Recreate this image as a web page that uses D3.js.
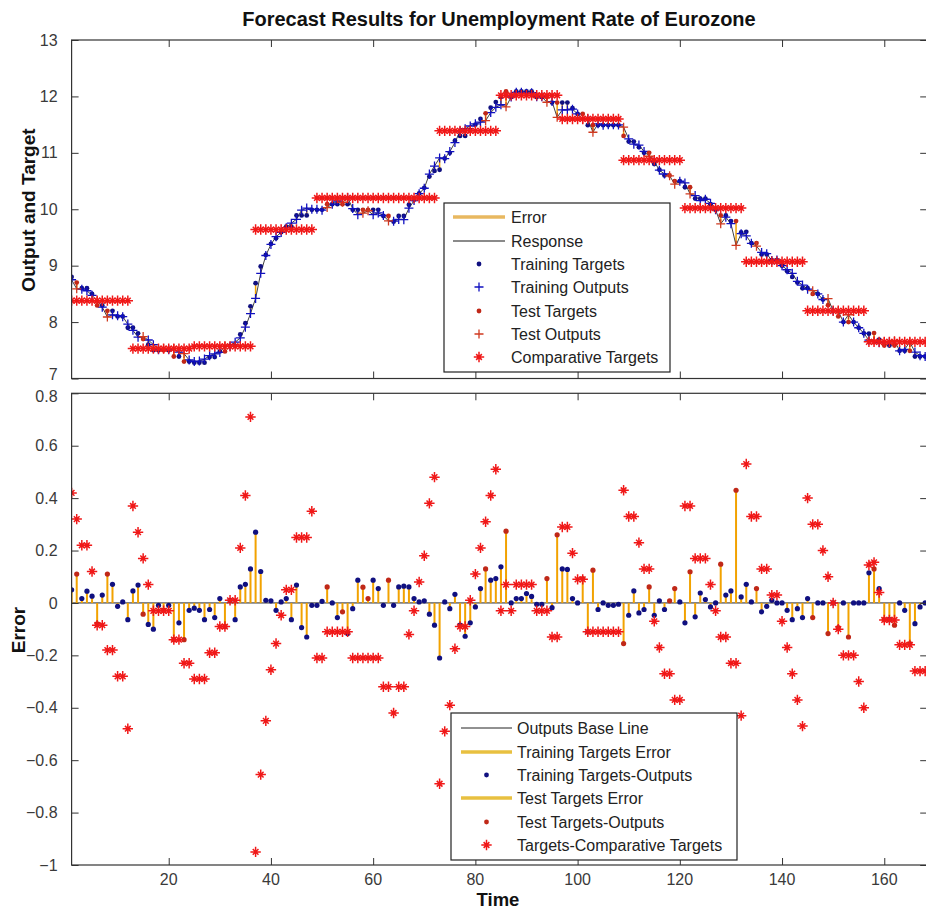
<!DOCTYPE html>
<html><head><meta charset="utf-8">
<script src="https://cdn.jsdelivr.net/npm/d3@7"></script>
<style>body{margin:0;background:#fff}svg{display:block}text{font-family:"Liberation Sans",Arial,Helvetica,sans-serif}</style>
</head><body><svg id="c" width="926" height="911"></svg>
<script>
// ---------------- DATA ----------------
const timeSteps = d3.range(1, 169);
// Comparative targets (annual values, each held for 12 monthly steps)
const comparativeAnnual = [8.38, 7.53, 7.57, 9.64, 10.2, 10.2, 11.39, 12.02, 11.6, 10.87, 10.02, 9.07, 8.2, 7.65];
// Targets - Comparative Targets
const diffComparative = [
  0.42,0.32,0.22,0.22,0.12,-0.085,-0.085,-0.18,-0.18,-0.28,-0.28,-0.48,
  0.37,0.27,0.17,0.07,-0.03,-0.03,-0.03,-0.03,-0.14,-0.14,-0.23,-0.23,
  -0.29,-0.29,-0.29,-0.19,-0.19,-0.09,-0.09,0.01,0.01,0.21,0.41,0.71,
  -0.95,-0.655,-0.45,-0.255,-0.155,-0.047,0.05,0.05,0.25,0.25,0.25,0.35,
  -0.21,-0.21,-0.11,-0.11,-0.11,-0.11,-0.11,-0.21,-0.21,-0.21,-0.21,-0.21,
  -0.21,-0.32,-0.32,-0.42,-0.32,-0.32,-0.12,-0.03,0.08,0.18,0.38,0.48,
  -0.69,-0.49,-0.39,-0.175,-0.09,-0.09,0.01,0.11,0.21,0.31,0.41,0.51,
  -0.03,0.07,-0.03,0.07,0.07,0.07,0.07,-0.03,-0.03,-0.03,-0.13,-0.13,
  0.29,0.29,0.19,0.09,0.09,-0.11,-0.11,-0.11,-0.11,-0.11,-0.11,-0.11,
  0.43,0.33,0.33,0.23,0.13,0.13,-0.07,-0.17,-0.27,-0.27,-0.37,-0.37,
  0.37,0.37,0.17,0.17,0.17,0.07,-0.03,-0.13,-0.13,-0.23,-0.23,-0.43,
  0.53,0.33,0.33,0.13,0.13,0.03,0.03,-0.07,-0.17,-0.27,-0.37,-0.47,
  0.40,0.30,0.30,0.20,0.10,0.00,-0.10,-0.20,-0.20,-0.20,-0.30,-0.40,
  0.145,0.155,0.04,-0.065,-0.065,-0.065,-0.16,-0.16,-0.16,-0.26,-0.26,-0.26
];
const errors = [
  0.05,0.11,0.017,0.045,0.026,-0.08,0.03,0.11,0.071,-0.013,0.004,-0.064,
  0.046,0.068,-0.043,-0.082,-0.10,-0.009,-0.028,-0.009,-0.14,-0.076,-0.14,-0.028,
  -0.02,-0.028,-0.064,-0.025,-0.056,0.017,-0.09,0.01,-0.064,0.061,0.071,0.13,
  0.27,0.12,0.01,0.008,-0.028,0.004,0.017,-0.064,0.068,-0.094,-0.13,-0.009,
  -0.009,0.006,0.061,0.0,-0.056,-0.034,-0.117,-0.022,0.087,0.06,0.017,0.087,
  0.055,-0.009,0.087,-0.009,0.061,0.064,0.061,0.017,0.004,0.008,-0.043,-0.085,
  -0.21,0.004,-0.022,0.033,-0.085,-0.127,-0.076,-0.015,0.055,0.13,0.087,0.093,
  0.138,0.274,0.0,0.017,0.017,0.036,0.025,-0.005,-0.005,0.093,-0.018,0.26,
  0.13,0.128,0.017,0.0,0.093,-0.11,0.125,-0.025,0.0,-0.009,-0.009,-0.005,
  -0.155,-0.047,0.046,-0.038,-0.025,0.061,-0.047,0.008,-0.025,0.008,0.055,0.004,
  -0.076,0.119,-0.053,0.038,0.013,-0.015,0.0,0.148,0.03,0.046,0.43,0.023,
  0.071,0.004,0.055,-0.034,-0.013,0.01,0.0,0.0,-0.028,-0.064,-0.022,-0.056,
  0.017,-0.056,0.0,0.0,-0.117,0.0,-0.094,0.0,-0.13,0.0,0.0,0.0,
  0.115,0.13,0.055,-0.064,-0.064,-0.085,0.0,-0.028,-0.155,-0.079,-0.015,0.0
];
// Time steps that belong to the test set
const testSteps = [2,6,8,15,19,21,23,31,51,54,58,59,63,82,86,94,96,101,103,109,114,118,119,122,128,131,135,146,149,151,153,158,160,162,165];
const xTickValues = [20,40,60,80,100,120,140,160];
const topYTicks = [7,8,9,10,11,12,13];
const botYTicks = [-1,-0.8,-0.6,-0.4,-0.2,0,0.2,0.4,0.6,0.8];
const topLegendLabels = ["Error","Response","Training Targets","Training Outputs","Test Targets","Test Outputs","Comparative Targets"];
const botLegendLabels = ["Outputs Base Line","Training Targets Error","Training Targets-Outputs","Test Targets Error","Test Targets-Outputs","Targets-Comparative Targets"];
const titleText = "Forecast Results for Unemployment Rate of Eurozone";

// ---------------- DERIVED ----------------
const testSet = new Set(testSteps);
const rows = timeSteps.map((t, i) => {
  const comp = comparativeAnnual[Math.floor(i / 12)];
  const target = comp + diffComparative[i];
  return {t, comp, target, output: target - errors[i], err: errors[i], diff: diffComparative[i], test: testSet.has(t)};
});
const train = rows.filter(d => !d.test), test = rows.filter(d => d.test);

// ---------------- LAYOUT ----------------
const svg = d3.select("#c");
const L = 71.6, R = 927.2;
const x = d3.scaleLinear().domain([1, 168.4]).range([L, R]);
const yTop = d3.scaleLinear().domain([7, 13]).range([378.5, 40]);
const yBot = d3.scaleLinear().domain([-1, 0.8]).range([865, 393.3]);
const BLUE = "#1010c0", BLUE_DOT = "#101080", RED = "#f01818", RED_DOT = "#c02818", STEM = "#f2a200";
const TICKLEN = 7;

const plusPath = s => `M${-s},0H${s}M0,${-s}V${s}`;
const starPath = s => { const d = s * 0.55; return `M${-s},0H${s}M0,${-s}V${s}M${-d},${-d}L${d},${d}M${-d},${d}L${d},${-d}`; };

function frame(y, top, bottom, yTicks, fmt, labelShift) {
  const g = svg.append("g");
  const la = g.append("g").attr("transform", `translate(${L},0)`)
    .call(d3.axisLeft(y).tickValues(yTicks).tickSize(-TICKLEN).tickPadding(7 + TICKLEN).tickFormat(fmt));
  la.select(".domain").remove();
  la.selectAll("line").attr("stroke", "#333");
  la.selectAll("text").attr("font-size", 16).attr("fill", "#3a3a3a").attr("font-family", "Liberation Sans, Arial, sans-serif")
    .attr("dy", d => labelShift(d));
  const ra = g.append("g").attr("transform", `translate(${R},0)`)
    .call(d3.axisRight(y).tickValues(yTicks).tickSize(-TICKLEN).tickFormat(""));
  ra.select(".domain").remove();
  ra.selectAll("line").attr("stroke", "#333");
  const ta = g.append("g").attr("transform", `translate(0,${top})`)
    .call(d3.axisTop(x).tickValues(xTickValues).tickSize(-TICKLEN).tickFormat(""));
  ta.select(".domain").remove(); ta.selectAll("line").attr("stroke", "#333");
  const ba = g.append("g").attr("transform", `translate(0,${bottom})`)
    .call(d3.axisBottom(x).tickValues(xTickValues).tickSize(-TICKLEN).tickFormat(""));
  ba.select(".domain").remove(); ba.selectAll("line").attr("stroke", "#333");
  g.append("rect").attr("x", L).attr("y", top).attr("width", R - L).attr("height", bottom - top)
    .attr("fill", "none").attr("stroke", "#333").attr("stroke-width", 1.2);
  return g;
}

const defs = svg.append("defs");
defs.append("clipPath").attr("id", "clipTop").append("rect").attr("x", L).attr("y", 40).attr("width", R - L).attr("height", 338.5);
defs.append("clipPath").attr("id", "clipBot").append("rect").attr("x", L).attr("y", 393.3).attr("width", R - L).attr("height", 471.7);

// ---------------- TOP PANEL ----------------
const gt = svg.append("g").attr("clip-path", "url(#clipTop)");
gt.selectAll("line.err").data(rows).join("line")
  .attr("x1", d => x(d.t)).attr("x2", d => x(d.t))
  .attr("y1", d => yTop(d.target)).attr("y2", d => yTop(d.output))
  .attr("stroke", STEM).attr("stroke-width", 1.5);
gt.append("path").datum(rows)
  .attr("d", d3.line().x(d => x(d.t)).y(d => yTop(d.output)))
  .attr("fill", "none").attr("stroke", "#404040").attr("stroke-width", 1);
gt.selectAll("circle.trT").data(train).join("circle")
  .attr("cx", d => x(d.t)).attr("cy", d => yTop(d.target)).attr("r", 2.4).attr("fill", BLUE_DOT);
gt.selectAll("path.trO").data(train).join("path")
  .attr("transform", d => `translate(${x(d.t)},${yTop(d.output)})`).attr("d", plusPath(4.5))
  .attr("stroke", BLUE).attr("stroke-width", 1.3).attr("fill", "none");
gt.selectAll("circle.teT").data(test).join("circle")
  .attr("cx", d => x(d.t)).attr("cy", d => yTop(d.target)).attr("r", 2.4).attr("fill", RED_DOT);
gt.selectAll("path.teO").data(test).join("path")
  .attr("transform", d => `translate(${x(d.t)},${yTop(d.output)})`).attr("d", plusPath(4.5))
  .attr("stroke", "#d03a20").attr("stroke-width", 1.3).attr("fill", "none");
gt.selectAll("path.comp").data(rows).join("path")
  .attr("transform", d => `translate(${x(d.t)},${yTop(d.comp)})`).attr("d", starPath(5.2))
  .attr("stroke", RED).attr("stroke-width", 1.5).attr("fill", "none");
frame(yTop, 40, 378.5, topYTicks, d3.format("d"), d => d === 7 ? "0.05em" : "0.32em");

// ---------------- BOTTOM PANEL ----------------
const gb = svg.append("g").attr("clip-path", "url(#clipBot)");
gb.append("line").attr("x1", L).attr("x2", R).attr("y1", yBot(0)).attr("y2", yBot(0))
  .attr("stroke", "#222").attr("stroke-width", 1);
gb.selectAll("line.stem").data(rows).join("line")
  .attr("x1", d => x(d.t)).attr("x2", d => x(d.t))
  .attr("y1", yBot(0)).attr("y2", d => yBot(d.err))
  .attr("stroke", STEM).attr("stroke-width", 2);
gb.selectAll("circle.trE").data(train).join("circle")
  .attr("cx", d => x(d.t)).attr("cy", d => yBot(d.err)).attr("r", 2.6).attr("fill", BLUE_DOT);
gb.selectAll("circle.teE").data(test).join("circle")
  .attr("cx", d => x(d.t)).attr("cy", d => yBot(d.err)).attr("r", 2.6).attr("fill", RED_DOT);
gb.selectAll("path.diff").data(rows).join("path")
  .attr("transform", d => `translate(${x(d.t)},${yBot(d.diff)})`).attr("d", starPath(5.2))
  .attr("stroke", RED).attr("stroke-width", 1.5).attr("fill", "none");
frame(yBot, 393.3, 865, botYTicks, d => d === 0 ? "0" : d3.format("")(+d.toFixed(1)), d => d === 0.8 ? "0.5em" : "0.32em");

svg.append("g").selectAll("text").data(xTickValues).join("text")
  .attr("x", d => x(d)).attr("y", 885).attr("text-anchor", "middle")
  .attr("font-size", 16).attr("fill", "#3a3a3a").text(d => d);

// ---------------- TEXT ----------------
svg.append("text").attr("x", 499).attr("y", 26).attr("text-anchor", "middle")
  .attr("font-size", 20).attr("font-weight", "bold").attr("fill", "#111").text(titleText);
svg.append("text").attr("x", 498).attr("y", 906).attr("text-anchor", "middle")
  .attr("font-size", 18.5).attr("font-weight", "bold").attr("fill", "#111").text("Time");
svg.append("text").attr("transform", "translate(35,210) rotate(-90)").attr("text-anchor", "middle")
  .attr("font-size", 19).attr("font-weight", "bold").attr("fill", "#111").text("Output and Target");
svg.append("text").attr("transform", "translate(25,630) rotate(-90)").attr("text-anchor", "middle")
  .attr("font-size", 19).attr("font-weight", "bold").attr("fill", "#111").text("Error");

// ---------------- LEGENDS ----------------
function legend(x0, y0, w, h, items, labels, sx0, sx1, tx, ys) {
  const g = svg.append("g");
  g.append("rect").attr("x", x0).attr("y", y0).attr("width", w).attr("height", h)
    .attr("fill", "#fff").attr("stroke", "#222").attr("stroke-width", 1.2);
  items.forEach((it, i) => {
    const y = ys[i], mx = (sx0 + sx1) / 2;
    if (it.type === "line") {
      g.append("line").attr("x1", sx0).attr("x2", sx1).attr("y1", y).attr("y2", y)
        .attr("stroke", it.color).attr("stroke-width", it.w);
    } else if (it.type === "dot") {
      g.append("circle").attr("cx", mx).attr("cy", y).attr("r", 2.4).attr("fill", it.color);
    } else if (it.type === "plus") {
      g.append("path").attr("transform", `translate(${mx},${y})`).attr("d", plusPath(4.5))
        .attr("stroke", it.color).attr("stroke-width", 1.3);
    } else if (it.type === "star") {
      g.append("path").attr("transform", `translate(${mx},${y})`).attr("d", starPath(5.2))
        .attr("stroke", it.color).attr("stroke-width", 1.5);
    }
    g.append("text").attr("x", tx).attr("y", y + 5.5).attr("font-size", 16).attr("fill", "#222").text(labels[i]);
  });
}
legend(444, 203, 226, 169,
  [{type:"line",color:"#e8b860",w:3.5},{type:"line",color:"#8a8a8a",w:2},{type:"dot",color:BLUE_DOT},{type:"plus",color:BLUE},
   {type:"dot",color:RED_DOT},{type:"plus",color:"#d03a20"},{type:"star",color:RED}],
  topLegendLabels, 453, 505, 511, [217,241,264,287,311,334,357]);
legend(451, 713, 286, 147,
  [{type:"line",color:"#222",w:1},{type:"line",color:"#e8c040",w:3.5},{type:"dot",color:BLUE_DOT},
   {type:"line",color:"#e8c040",w:3.5},{type:"dot",color:RED_DOT},{type:"star",color:RED}],
  botLegendLabels, 461, 512, 517, [728,752,775,798,822,845]);
</script></body></html>
